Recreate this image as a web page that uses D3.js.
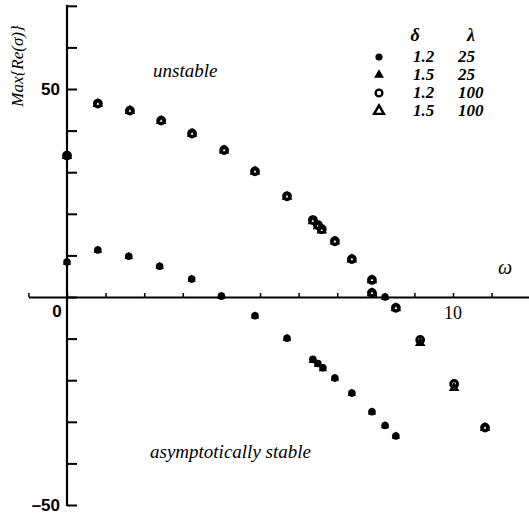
<!DOCTYPE html>
<meta charset="utf-8">
<head>
  <script src="https://d3js.org/d3.v7.min.js"></script>
  <style>
    body { margin: 0; background: #fff; }
    text { font-family: "Liberation Serif", "DejaVu Serif", serif; }
  </style>
</head>
<body>
<div id="container"></div>
<script>
// data
var omega100 = [0, 0.8, 1.63, 2.44, 3.24, 4.07, 4.87, 5.7, 6.37, 6.5, 6.6, 6.94, 7.38, 7.9, 7.9, 8.52, 9.15, 10.03, 10.83];
var re12_100 = [34, 46.5, 44.8, 42.4, 39.3, 35.3, 30.2, 24.2, 18.5, 17.3, 16.3, 13.4, 9.1, 4.1, 1.0, -2.6, -10.3, -20.9, -31.4];
var re15_100 = [34, 46.5, 44.8, 42.4, 39.3, 35.3, 30.2, 24.2, 18.3, 17.1, 16.1, 13.4, 9.1, 4.1, 1.0, -2.6, -11.0, -21.8, -31.4];

var omega25 = [0, 0.8, 1.6, 2.4, 3.23, 4.0, 4.87, 5.7, 6.37, 6.5, 6.63, 6.94, 7.38, 7.9, 8.24, 8.52, 8.24];
var re12_25 = [8.4, 11.3, 9.8, 7.4, 4.3, 0.2, -4.5, -9.9, -15.0, -16.0, -17.0, -19.5, -23.1, -27.6, -30.9, -33.4, 0];
var re15_25 = [8.4, 11.3, 9.8, 7.4, 4.3, 0.2, -4.5, -9.9, -15.2, -16.2, -17.2, -19.5, -23.1, -27.6, -30.9, -33.4, 0];

var legendDelta = ["1.2", "1.5", "1.2", "1.5"];
var legendLambda = ["25", "25", "100", "100"];

var yTicks = [-50, -40, -30, -20, -10, 0, 10, 20, 30, 40, 50, 60, 70];
var xTicks = [-1, 0, 1, 2, 3, 4, 5, 6, 7, 8, 9, 10, 11];

var width = 529, height = 518;

var svg = d3.select("#container").append("svg")
  .attr("width", width)
  .attr("height", height);

var x = d3.scaleLinear().domain([0, 10]).range([67, 453]);
var y = d3.scaleLinear().domain([0, 50]).range([297, 89]);

// y axis, ticks pointing right
var yScaleAxis = y.copy().domain([-50, 70]).range([y(-50), y(70)]);
var yAxis = svg.append("g")
  .attr("transform", "translate(" + x(0) + ",0)")
  .call(d3.axisRight(yScaleAxis).tickValues(yTicks).tickSize(10).tickSizeOuter(0).tickFormat(""));
yAxis.selectAll(".tick line").attr("stroke-width", 2);
svg.append("line")
  .attr("x1", x(0)).attr("x2", x(0))
  .attr("y1", y(70) - 1).attr("y2", y(-50) + 1)
  .attr("stroke", "#000").attr("stroke-width", 2.2);

// x axis, small ticks pointing up
var xScaleAxis = x.copy().domain([-1, 12.2]).range([x(-1), x(12.2)]);
var xAxis = svg.append("g")
  .attr("transform", "translate(0," + y(0) + ")")
  .call(d3.axisTop(xScaleAxis).tickValues(xTicks).tickSize(4).tickSizeOuter(0).tickFormat(""));
xAxis.select(".domain").attr("stroke-width", 2);
xAxis.selectAll(".tick line").attr("stroke-width", 1.5);

// tick labels
svg.append("text").attr("x", 60).attr("y", y(50) + 6)
  .attr("text-anchor", "end").attr("font-size", 17)
  .style("font-family", "Liberation Sans, Arial, sans-serif").attr("font-weight", "bold")
  .text("50");
svg.append("text").attr("x", 60).attr("y", y(-50) + 6)
  .attr("text-anchor", "end").attr("font-size", 17)
  .style("font-family", "Liberation Sans, Arial, sans-serif").attr("font-weight", "bold")
  .text("\u201350");
svg.append("text").attr("x", 57).attr("y", y(0) + 20)
  .attr("text-anchor", "middle").attr("font-size", 17)
  .style("font-family", "Liberation Sans, Arial, sans-serif").attr("font-weight", "bold")
  .text("0");
svg.append("text").attr("x", x(10)).attr("y", y(0) + 22)
  .attr("text-anchor", "middle").attr("font-size", 18)
  .text("10");

// axis titles
svg.append("text").attr("x", 505).attr("y", 274)
  .attr("text-anchor", "middle").attr("font-size", 20).attr("font-style", "italic")
  .text("\u03c9");
svg.append("text")
  .attr("transform", "translate(23,66) rotate(-90)")
  .attr("text-anchor", "middle").attr("font-size", 17).attr("font-style", "italic")
  .text("Max{Re(\u03c3)}");

// region labels
svg.append("text").attr("x", 153).attr("y", 77)
  .attr("font-size", 19).attr("font-style", "italic").text("unstable");
svg.append("text").attr("x", 150).attr("y", 458)
  .attr("font-size", 19).attr("font-style", "italic").text("asymptotically stable");

// markers
var tri = d3.symbol().type(d3.symbolTriangle);

function filledCircles(xs, ys) {
  svg.append("g").selectAll("circle").data(xs).join("circle")
    .attr("cx", function (d) { return x(d); })
    .attr("cy", function (d, i) { return y(ys[i]); })
    .attr("r", 3.8).attr("fill", "#000");
}
function filledTriangles(xs, ys) {
  svg.append("g").selectAll("path").data(xs).join("path")
    .attr("d", tri.size(30))
    .attr("transform", function (d, i) { return "translate(" + x(d) + "," + (y(ys[i]) + 0.3) + ")"; })
    .attr("fill", "#000");
}
function openCircles(xs, ys) {
  svg.append("g").selectAll("circle").data(xs).join("circle")
    .attr("cx", function (d) { return x(d); })
    .attr("cy", function (d, i) { return y(ys[i]); })
    .attr("r", 3.4).attr("fill", "none").attr("stroke", "#000").attr("stroke-width", 3);
}
function openTriangles(xs, ys) {
  svg.append("g").selectAll("path").data(xs).join("path")
    .attr("d", tri.size(20))
    .attr("transform", function (d, i) { return "translate(" + x(d) + "," + (y(ys[i]) + 0.3) + ")"; })
    .attr("fill", "none").attr("stroke", "#000").attr("stroke-width", 2.2);
}

filledCircles(omega25, re12_25);
filledTriangles(omega25, re15_25);
openCircles(omega100, re12_100);
openTriangles(omega100, re15_100);

// legend
var legY = [57, 75, 93, 111];
var lg = svg.append("g");
lg.append("text").attr("x", 415).attr("y", 41).attr("text-anchor", "middle")
  .attr("font-size", 18).attr("font-style", "italic").attr("font-weight", "bold").text("\u03b4");
lg.append("text").attr("x", 471).attr("y", 41).attr("text-anchor", "middle")
  .attr("font-size", 18).attr("font-style", "italic").attr("font-weight", "bold").text("\u03bb");
legendDelta.forEach(function (d, i) {
  lg.append("text").attr("x", 413).attr("y", legY[i] + 5)
    .attr("font-size", 17).attr("font-style", "italic").attr("font-weight", "bold").text(d);
  lg.append("text").attr("x", 458).attr("y", legY[i] + 5)
    .attr("font-size", 17).attr("font-style", "italic").attr("font-weight", "bold").text(legendLambda[i]);
});
lg.append("circle").attr("cx", 379).attr("cy", legY[0]).attr("r", 3.6).attr("fill", "#000");
lg.append("path").attr("d", tri.size(42)).attr("transform", "translate(379," + legY[1] + ")").attr("fill", "#000");
lg.append("circle").attr("cx", 379).attr("cy", legY[2]).attr("r", 3.4)
  .attr("fill", "none").attr("stroke", "#000").attr("stroke-width", 2.4);
lg.append("path").attr("d", tri.size(42)).attr("transform", "translate(379," + legY[3] + ")")
  .attr("fill", "none").attr("stroke", "#000").attr("stroke-width", 2.4);
</script>
</body>
